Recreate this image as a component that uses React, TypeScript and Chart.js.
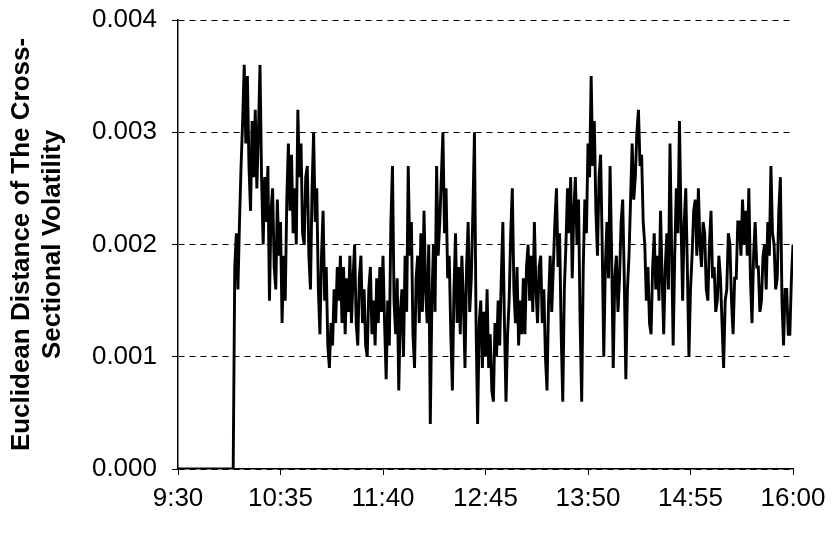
import React, { useEffect, useRef } from "react";
import { Chart, registerables } from "chart.js";

Chart.register(...registerables);

// One value per minute after 9:30 (minute 0 .. 390)
const START_HOUR = 9;
const START_MIN = 30;
const STEP_MINUTES = 1;
const TICK_MINUTES = [0, 65, 130, 195, 260, 325, 390];
const Y_TICKS = [0, 0.001, 0.002, 0.003, 0.004];

// 9:30 - 10:05 : flat at zero
const openingZeros: number[] = [
  0, 0, 0, 0, 0, 0, 0, 0, 0, 0, 0, 0, 0, 0, 0, 0, 0, 0,
  0, 0, 0, 0, 0, 0, 0, 0, 0, 0, 0, 0, 0, 0, 0, 0, 0, 0,
];

// 10:06 - 16:00
const volatility: number[] = [
  0.0018, 0.0021, 0.0016, 0.0022,
  0.0027, 0.0031, 0.0036, 0.0029, 0.0035, 0.0027, 0.0023, 0.0031, 0.0026, 0.0032,
  0.0025, 0.003, 0.0036, 0.0026, 0.002, 0.0026, 0.0022, 0.0027, 0.0015, 0.0023,
  0.0025, 0.0018, 0.0016, 0.0024, 0.0019, 0.0022, 0.0013, 0.0019, 0.0015, 0.0024,
  0.0029, 0.0023, 0.0028, 0.0021, 0.0025, 0.002, 0.0032, 0.0026, 0.0029, 0.0021,
  0.002, 0.0026, 0.0027, 0.0019, 0.0016, 0.0025, 0.003, 0.0022, 0.0025, 0.0016,
  0.0012, 0.0019, 0.0023, 0.0015, 0.0018, 0.0011, 0.0009, 0.0013, 0.0011, 0.0016,
  0.0013, 0.0018, 0.0015, 0.0019, 0.0013, 0.0018, 0.0012, 0.0017, 0.0014, 0.0019,
  0.0013, 0.0017, 0.002, 0.0013, 0.0011, 0.0017, 0.0019, 0.0013, 0.0016, 0.0011,
  0.001, 0.0016, 0.0018, 0.0012, 0.0015, 0.0011, 0.0017, 0.0013, 0.0018, 0.0014,
  0.0019, 0.0013, 0.0008, 0.0015, 0.0011, 0.0022, 0.0027, 0.0015, 0.0012, 0.0017,
  0.0007, 0.0014, 0.0016, 0.001, 0.0019, 0.0014, 0.0027, 0.0019, 0.0022, 0.0012,
  0.0009, 0.0017, 0.0019, 0.0013, 0.0021, 0.0014, 0.0023, 0.0016, 0.0013, 0.002,
  0.0004, 0.0015, 0.002, 0.0014, 0.0027, 0.0019, 0.0022, 0.0026, 0.003, 0.0021,
  0.0025, 0.0017, 0.0019, 0.0012, 0.0007, 0.0016, 0.0021, 0.0013, 0.0018, 0.0012,
  0.0019, 0.0015, 0.0009, 0.0018, 0.0022, 0.0014, 0.0017, 0.0023, 0.003, 0.0013,
  0.0004, 0.0013, 0.0015, 0.0009, 0.0014, 0.001, 0.0016, 0.0009, 0.0012, 0.0007,
  0.0006, 0.0013, 0.001, 0.0015, 0.0011, 0.0017, 0.0022, 0.0013, 0.0006, 0.0012,
  0.0015, 0.0021, 0.0025, 0.0016, 0.0013, 0.0018, 0.0011, 0.0015, 0.0012, 0.0017,
  0.0012, 0.0018, 0.002, 0.0015, 0.0019, 0.0014, 0.0022, 0.0016, 0.0013, 0.0018,
  0.0019, 0.0013, 0.0016, 0.001, 0.0007, 0.0015, 0.0019, 0.0014, 0.0018, 0.0022,
  0.0025, 0.0018, 0.0021, 0.0012, 0.0006, 0.0016, 0.002, 0.0025, 0.0021, 0.0026,
  0.0017, 0.0023, 0.0026, 0.002, 0.0024, 0.0013, 0.0006, 0.0018, 0.0024, 0.0021,
  0.0029, 0.0026, 0.0035, 0.0027, 0.0031, 0.0023, 0.0019, 0.0026, 0.0028, 0.002,
  0.001, 0.0018, 0.0022, 0.0017, 0.0027, 0.0019, 0.0009, 0.0017, 0.0019, 0.0014,
  0.0017, 0.0022, 0.0024, 0.0017, 0.0008, 0.0016, 0.0019, 0.0024, 0.0029, 0.0024,
  0.0026, 0.003, 0.0032, 0.0027, 0.0028, 0.0022, 0.002, 0.0015, 0.0018, 0.0013,
  0.0012, 0.0018, 0.0021, 0.0016, 0.0019, 0.0015, 0.0023, 0.0017, 0.0012, 0.0018,
  0.0021, 0.0016, 0.0029, 0.002, 0.0011, 0.0019, 0.0025, 0.0021, 0.0031, 0.0022,
  0.0015, 0.0022, 0.0025, 0.0018, 0.001, 0.0016, 0.0019, 0.0023, 0.0024, 0.0019,
  0.0025, 0.002, 0.0018, 0.0022, 0.0021, 0.0016, 0.0015, 0.002, 0.0023, 0.0017,
  0.0018, 0.0014, 0.0015, 0.0019, 0.0017, 0.0013, 0.0009, 0.0015, 0.0016, 0.0021,
  0.002, 0.0015, 0.0012, 0.0017, 0.0017, 0.0022, 0.0022, 0.0019, 0.0024, 0.002,
  0.0023, 0.0019, 0.0025, 0.0017, 0.0013, 0.0019, 0.0022, 0.0018, 0.0018, 0.0014,
  0.0015, 0.0019, 0.002, 0.0016, 0.0022, 0.0019, 0.0027, 0.0021, 0.002, 0.0016,
  0.0017, 0.0023, 0.0026, 0.0015, 0.0011, 0.0016, 0.0016, 0.0012, 0.0012, 0.0017,
  0.002,
];

const Y_TITLE = ["Euclidean Distance of The Cross-", "Sectional Volatility"];
const FONT = "'Liberation Sans', Arial, Helvetica, sans-serif";

function fmtTime(m: number): string {
  const total = START_HOUR * 60 + START_MIN + m;
  const h = Math.floor(total / 60);
  const mm = total % 60;
  return `${h}:${mm < 10 ? "0" + mm : mm}`;
}

export default function App() {
  const ref = useRef<HTMLCanvasElement | null>(null);

  useEffect(() => {
    if (!ref.current) return;
    const series = [...openingZeros, ...volatility];
    const points = series.map((v, i) => ({ x: i * STEP_MINUTES, y: v }));
    const chart = new Chart(ref.current, {
      type: "line",
      data: {
        datasets: [
          {
            data: points,
            borderColor: "#000",
            borderWidth: 2.9,
            pointRadius: 0,
            tension: 0,
            fill: false,
          },
        ],
      },
      options: {
        animation: false,
        responsive: false,
        maintainAspectRatio: false,
        devicePixelRatio: 1,
        layout: { padding: { top: 20, right: 40, left: 0, bottom: 0 } },
        plugins: { legend: { display: false }, tooltip: { enabled: false } },
        scales: {
          x: {
            type: "linear",
            min: 0,
            max: 390,
            afterBuildTicks: (scale: any) => {
              scale.ticks = TICK_MINUTES.map((v) => ({ value: v }));
            },
            afterFit: (scale: any) => {
              scale.height = 64;
              scale.paddingLeft = 0;
              scale.paddingRight = 0;
            },
            border: { display: true, color: "#000", width: 1.5 },
            grid: {
              display: true,
              drawOnChartArea: false,
              drawTicks: true,
              tickLength: 6,
              color: "#000",
              lineWidth: 1,
            },
            ticks: {
              autoSkip: false,
              maxRotation: 0,
              padding: 8,
              color: "#000",
              font: { family: FONT, size: 26 },
              callback: (v: any) => fmtTime(Number(v)),
            },
          },
          y: {
            min: 0,
            max: 0.004,
            afterBuildTicks: (scale: any) => {
              scale.ticks = Y_TICKS.map((v) => ({ value: v }));
            },
            afterFit: (scale: any) => {
              scale.width = 178;
              scale.paddingTop = 0;
              scale.paddingBottom = 0;
            },
            border: { display: true, color: "#000", width: 1.5, dash: [6, 5] },
            grid: {
              display: true,
              drawTicks: true,
              tickLength: 6,
              color: "#000",
              lineWidth: 1,
            },
            ticks: {
              padding: 15,
              color: "#000",
              font: { family: FONT, size: 26 },
              callback: (v: any) => Number(v).toFixed(3),
            },
            title: {
              display: true,
              text: Y_TITLE,
              color: "#000",
              font: { family: FONT, size: 26, weight: "bold", lineHeight: 1.2 },
              padding: { top: 6, bottom: 0 },
            },
          },
        },
      },
    });
    return () => chart.destroy();
  }, []);

  return (
    <div style={{ position: "fixed", left: 0, top: 0, width: 833, height: 533, background: "#fff" }}>
      <canvas ref={ref} width={833} height={533} style={{ width: 833, height: 533 }} />
    </div>
  );
}
